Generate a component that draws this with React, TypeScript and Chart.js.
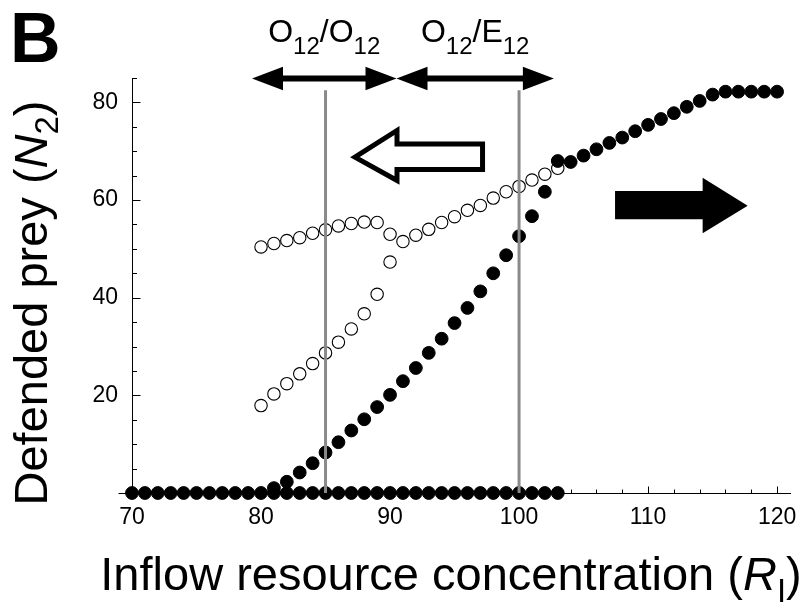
import React, { useEffect, useRef } from "react";
import { Chart, registerables } from "chart.js";

Chart.register(...registerables);

// ---------- data ----------
const bottomFilledX = [70, 71, 72, 73, 74, 75, 76, 77, 78, 79, 80, 81, 82, 83, 84, 85, 86, 87, 88, 89, 90, 91, 92, 93, 94, 95, 96, 97, 98, 99, 100, 101, 102, 103];
const bottomFilledY = [0, 0, 0, 0, 0, 0, 0, 0, 0, 0, 0, 0, 0, 0, 0, 0, 0, 0, 0, 0, 0, 0, 0, 0, 0, 0, 0, 0, 0, 0, 0, 0, 0, 0];

const upperFilledX = [81, 82, 83, 84, 85, 86, 87, 88, 89, 90, 91, 92, 93, 94, 95, 96, 97, 98, 99, 100, 101, 102, 103, 104, 105, 106, 107, 108, 109, 110, 111, 112, 113, 114, 115, 116, 117, 118, 119, 120];
const upperFilledY = [1.0, 2.3, 4.2, 6.1, 8.3, 10.4, 12.8, 15.1, 17.6, 20.1, 22.9, 25.6, 28.7, 31.6, 34.8, 37.9, 41.3, 45.0, 48.7, 52.6, 56.7, 61.7, 68.0, 67.8, 69.1, 70.4, 71.7, 72.8, 74.1, 75.4, 76.6, 77.8, 79.1, 80.3, 81.6, 82.2, 82.2, 82.2, 82.2, 82.2];

const openUpperX = [80, 81, 82, 83, 84, 85, 86, 87, 88, 89, 90, 91, 92, 93, 94, 95, 96, 97, 98, 99, 100, 101, 102, 103];
const openUpperY = [50.4, 51.1, 51.7, 52.3, 53.2, 53.9, 54.7, 55.2, 55.5, 55.4, 53.0, 51.5, 52.8, 54.0, 55.4, 56.6, 57.9, 58.9, 60.4, 61.7, 62.8, 64.1, 65.3, 66.5];

const openLowerX = [80, 81, 82, 83, 84, 85, 86, 87, 88, 89, 90];
const openLowerY = [17.9, 20.3, 22.4, 24.4, 26.5, 28.7, 30.9, 33.6, 36.7, 40.7, 47.3];

const xTickLabels = [70, 80, 90, 100, 110, 120];
const yTickLabels = [20, 40, 60, 80];

const boundaryX = [85, 100];
const boundaryTop = 82.5;

// region ranges for the double-headed arrows (x from, x to), labels
const regionFrom = [79.3, 90.5];
const regionTo = [90.5, 102.7];
const regionMain = [["O", "O"], ["O", "E"]];
const regionSub = ["12", "12"];
const regionArrowY = 84.9;
const regionLabelY = 92.4;

const FAM = '"Liberation Sans", Arial, Helvetica, sans-serif';
const NARROW = '"Liberation Sans Narrow", "Arial Narrow", "Liberation Sans", Arial, sans-serif';

type Part = { text: string; font: string; dy?: number };

function richWidth(ctx: CanvasRenderingContext2D, parts: Part[]) {
  let w = 0;
  for (const p of parts) {
    ctx.font = p.font;
    w += ctx.measureText(p.text).width;
  }
  return w;
}

function drawRich(ctx: CanvasRenderingContext2D, parts: Part[], x: number, y: number) {
  let cx = x;
  for (const p of parts) {
    ctx.font = p.font;
    ctx.fillText(p.text, cx, y + (p.dy || 0));
    cx += ctx.measureText(p.text).width;
  }
}

const tickPlugin = {
  id: "inwardTicks",
  beforeDatasetsDraw(chart: any) {
    const { ctx, scales, chartArea } = chart;
    const x = scales.x;
    const y = scales.y;
    ctx.save();
    ctx.strokeStyle = "#000";
    ctx.lineWidth = 1;
    const left = Math.round(chartArea.left) + 0.5;
    const bottom = Math.round(chartArea.bottom) + 0.5;
    for (const t of y.ticks) {
      const v = t.value;
      const len = v % 20 === 0 ? 8 : 4.5;
      const py = Math.round(y.getPixelForValue(v)) + 0.5;
      ctx.beginPath();
      ctx.moveTo(left, py);
      ctx.lineTo(left + len, py);
      ctx.stroke();
    }
    for (const t of x.ticks) {
      const v = t.value;
      const len = v % 10 === 0 ? 7 : 4;
      const px = Math.round(x.getPixelForValue(v)) + 0.5;
      ctx.beginPath();
      ctx.moveTo(px, bottom);
      ctx.lineTo(px, bottom - len);
      ctx.stroke();
    }
    // short outward tick at the origin
    ctx.beginPath();
    ctx.moveTo(left - 14, bottom);
    ctx.lineTo(left, bottom);
    ctx.stroke();
    ctx.restore();
  },
};

const overlayPlugin = {
  id: "overlay",
  afterDatasetsDraw(chart: any) {
    const { ctx, scales } = chart;
    const x = scales.x;
    const y = scales.y;
    ctx.save();

    // grey boundary lines
    ctx.strokeStyle = "#8a8a8a";
    ctx.lineWidth = 3;
    for (const v of boundaryX) {
      const px = x.getPixelForValue(v);
      ctx.beginPath();
      ctx.moveTo(px, y.getPixelForValue(0));
      ctx.lineTo(px, y.getPixelForValue(boundaryTop));
      ctx.stroke();
    }

    // double-headed arrows and labels
    ctx.fillStyle = "#000";
    ctx.strokeStyle = "#000";
    const ay = y.getPixelForValue(regionArrowY);
    const headL = 31;
    const headH = 11.7;
    for (let i = 0; i < regionFrom.length; i++) {
      const x1 = x.getPixelForValue(regionFrom[i]);
      const x2 = x.getPixelForValue(regionTo[i]);
      ctx.lineWidth = 6;
      ctx.beginPath();
      ctx.moveTo(x1 + headL - 2, ay);
      ctx.lineTo(x2 - headL + 2, ay);
      ctx.stroke();
      ctx.beginPath();
      ctx.moveTo(x1, ay);
      ctx.lineTo(x1 + headL, ay - headH);
      ctx.lineTo(x1 + headL, ay + headH);
      ctx.closePath();
      ctx.fill();
      ctx.beginPath();
      ctx.moveTo(x2, ay);
      ctx.lineTo(x2 - headL, ay - headH);
      ctx.lineTo(x2 - headL, ay + headH);
      ctx.closePath();
      ctx.fill();

      const mainFont = `32px ${FAM}`;
      const subFont = `24px ${FAM}`;
      const parts: Part[] = [
        { text: regionMain[i][0], font: mainFont },
        { text: regionSub[i], font: subFont, dy: 12 },
        { text: "/", font: mainFont },
        { text: regionMain[i][1], font: mainFont },
        { text: regionSub[i], font: subFont, dy: 12 },
      ];
      ctx.textBaseline = "alphabetic";
      ctx.textAlign = "left";
      const w = richWidth(ctx, parts);
      const cx = (x1 + x2) / 2;
      drawRich(ctx, parts, cx - w / 2, y.getPixelForValue(regionLabelY));
    }

    // hollow arrow pointing left
    const P = (vx: number, vy: number) => [x.getPixelForValue(vx), y.getPixelForValue(vy)];
    const hollow = [
      P(87.28, 68.8),
      P(90.54, 74.25),
      P(90.54, 71.5),
      P(97.17, 71.5),
      P(97.17, 66.26),
      P(90.54, 66.26),
      P(90.54, 64.0),
    ];
    ctx.beginPath();
    hollow.forEach((p, k) => (k === 0 ? ctx.moveTo(p[0], p[1]) : ctx.lineTo(p[0], p[1])));
    ctx.closePath();
    ctx.fillStyle = "#fff";
    ctx.fill();
    ctx.lineWidth = 5;
    ctx.lineJoin = "miter";
    ctx.strokeStyle = "#000";
    ctx.stroke();

    // solid arrow pointing right
    const solid = [
      P(107.44, 61.86),
      P(114.23, 61.86),
      P(114.23, 64.58),
      P(117.72, 58.85),
      P(114.23, 53.2),
      P(114.23, 56.06),
      P(107.44, 56.06),
    ];
    ctx.beginPath();
    solid.forEach((p, k) => (k === 0 ? ctx.moveTo(p[0], p[1]) : ctx.lineTo(p[0], p[1])));
    ctx.closePath();
    ctx.fillStyle = "#000";
    ctx.fill();

    ctx.restore();
  },
  afterDraw(chart: any) {
    const { ctx } = chart;
    ctx.save();
    ctx.fillStyle = "#000";
    ctx.textBaseline = "alphabetic";
    ctx.textAlign = "left";

    // panel letter
    ctx.font = `bold 70px ${FAM}`;
    ctx.fillText("B", 10, 62);

    // x-axis title
    const big = `47px ${FAM}`;
    const bigIt = `italic 47px ${FAM}`;
    const sub = `33px ${FAM}`;
    const xParts: Part[] = [
      { text: "Inflow resource concentration (", font: big },
      { text: "R", font: bigIt },
      { text: "I", font: sub, dy: 12 },
      { text: ")", font: big },
    ];
    const xw = richWidth(ctx, xParts);
    const xc = 451;
    drawRich(ctx, xParts, xc - xw / 2, 590);

    // y-axis title (rotated)
    const yParts: Part[] = [
      { text: "Defended prey (", font: big },
      { text: "N", font: bigIt },
      { text: "2", font: sub, dy: 11 },
      { text: ")", font: big },
    ];
    const yw = richWidth(ctx, yParts);
    ctx.translate(47, 303);
    ctx.rotate(-Math.PI / 2);
    drawRich(ctx, yParts, -yw / 2, 0);
    ctx.restore();
  },
};

export default function App() {
  const canvasRef = useRef<HTMLCanvasElement | null>(null);

  useEffect(() => {
    if (!canvasRef.current) return;
    const toPts = (xs: number[], ys: number[]) => xs.map((v, i) => ({ x: v, y: ys[i] }));
    const filledStyle = {
      pointRadius: 6.4,
      pointBackgroundColor: "#000",
      pointBorderColor: "#000",
      pointBorderWidth: 1,
      showLine: false,
      clip: false as any,
    };
    const openStyle = {
      pointRadius: 6.2,
      pointBackgroundColor: "#fff",
      pointBorderColor: "#000",
      pointBorderWidth: 1.1,
      showLine: false,
      clip: false as any,
    };
    const chart = new Chart(canvasRef.current, {
      type: "scatter",
      data: {
        datasets: [
          { label: "open upper", data: toPts(openUpperX, openUpperY), ...openStyle, order: 3 },
          { label: "open lower", data: toPts(openLowerX, openLowerY), ...openStyle, order: 2 },
          { label: "filled bottom", data: toPts(bottomFilledX, bottomFilledY), ...filledStyle, order: 1 },
          { label: "filled upper", data: toPts(upperFilledX, upperFilledY), ...filledStyle, order: 0 },
        ],
      },
      options: {
        responsive: false,
        animation: false,
        events: [],
        layout: { padding: { top: 78, right: 10, left: 0, bottom: 0 } },
        plugins: { legend: { display: false }, tooltip: { enabled: false }, title: { display: false } },
        scales: {
          x: {
            type: "linear",
            min: 70,
            max: 121,
            grid: { display: false },
            border: { display: true, color: "#000", width: 1 },
            ticks: {
              stepSize: 2,
              includeBounds: false,
              autoSkip: false,
              maxRotation: 0,
              minRotation: 0,
              padding: 3,
              color: "#000",
              font: { family: NARROW, size: 23 },
              callback: (v: any) => (xTickLabels.includes(Number(v)) ? String(v) : ""),
            },
            afterFit: (s: any) => {
              s.height = 111;
            },
          },
          y: {
            type: "linear",
            min: 0,
            max: 85,
            grid: { display: false },
            border: { display: true, color: "#000", width: 1 },
            ticks: {
              stepSize: 5,
              autoSkip: false,
              padding: 6,
              color: "#000",
              font: { family: NARROW, size: 23 },
              callback: (v: any) => (yTickLabels.includes(Number(v)) ? String(v) : ""),
            },
            afterFit: (s: any) => {
              s.width = 132;
            },
          },
        },
      },
      plugins: [tickPlugin, overlayPlugin],
    });
    return () => chart.destroy();
  }, []);

  return (
    <div style={{ position: "absolute", left: 0, top: 0, width: 800, height: 604, background: "#fff" }}>
      <canvas ref={canvasRef} width={800} height={604} style={{ display: "block" }} />
    </div>
  );
}
